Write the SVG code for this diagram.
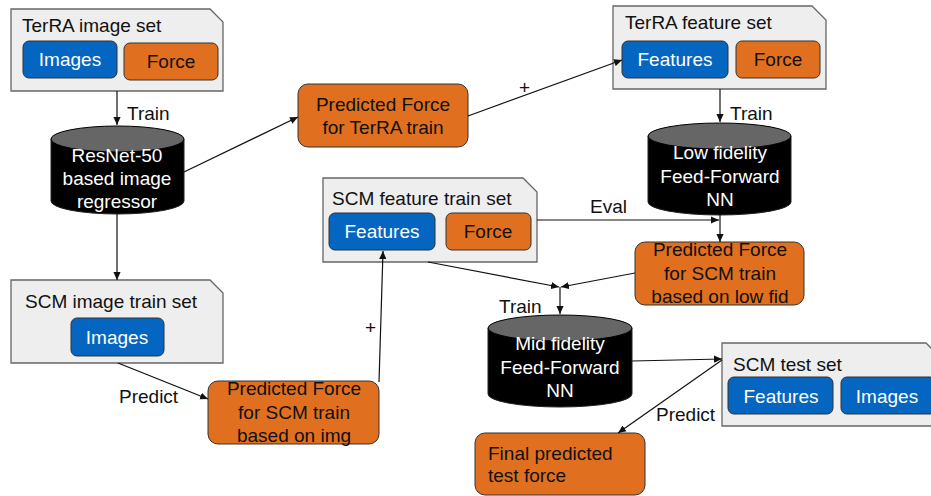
<svg xmlns="http://www.w3.org/2000/svg" width="931" height="496" viewBox="0 0 931 496">
<style>
text{font-family:"Liberation Sans",Arial,sans-serif;font-size:19px;fill:#111}
.set{fill:#eeeeee;stroke:#666;stroke-width:1.3}
.blue{fill:#0466c0;stroke:#333;stroke-width:1}
.org{fill:#e07020;stroke:#333;stroke-width:1}
.wt{fill:#fff}
.c{text-anchor:middle}
.cyl{fill:#000;stroke:#222;stroke-width:1}
.top{fill:#666;stroke:#000;stroke-width:1}
.edge{fill:none;stroke:#111;stroke-width:1.2;marker-end:url(#ah)}
</style>
<defs>
<marker id="ah" viewBox="0 0 10 10" refX="10" refY="5" markerWidth="8" markerHeight="8" markerUnits="userSpaceOnUse" orient="auto">
<path d="M0,0.5 L10,5 L0,9.5 Z" fill="#111"/>
</marker>
</defs>

<g id="terra-image-set">
<path class="set" d="M11,9 H210 L223,22 V91 H11 Z"/>
<text x="22" y="32">TerRA image set</text>
<rect class="blue" x="23" y="41" width="94" height="37" rx="6"/>
<text class="wt c" x="70" y="66">Images</text>
<rect class="org" x="124" y="43" width="94" height="37" rx="6"/>
<text class="c" x="171" y="68">Force</text>
</g>

<g id="resnet">
<path class="cyl" d="M51,139 V201 A66.5,13 0 0 0 184,201 V139 Z"/>
<ellipse class="top" cx="117.5" cy="139" rx="66.5" ry="13"/>
<text class="wt c" x="117" y="162">ResNet-50</text>
<text class="wt c" x="117" y="185">based image</text>
<text class="wt c" x="117" y="208">regressor</text>
</g>

<g id="pred-terra">
<rect class="org" x="298" y="84" width="170" height="63" rx="10"/>
<text class="c" x="383" y="111">Predicted Force</text>
<text class="c" x="383" y="134">for TerRA train</text>
</g>

<g id="terra-feature-set">
<path class="set" d="M613,6 H812 L826,20 V89 H613 Z"/>
<text x="625" y="29">TerRA feature set</text>
<rect class="blue" x="622" y="41" width="106" height="37" rx="6"/>
<text class="wt c" x="675" y="66">Features</text>
<rect class="org" x="736" y="41" width="84" height="37" rx="6"/>
<text class="c" x="778" y="66">Force</text>
</g>

<g id="low-fid">
<path class="cyl" d="M648,136 V202 A71.5,13 0 0 0 791,202 V136 Z"/>
<ellipse class="top" cx="719.5" cy="136" rx="71.5" ry="13"/>
<text class="wt c" x="720" y="159">Low fidelity</text>
<text class="wt c" x="720" y="183">Feed-Forward</text>
<text class="wt c" x="720" y="206">NN</text>
</g>

<g id="scm-feature-set">
<path class="set" d="M323,178 H523 L537,192 V262 H323 Z"/>
<text x="332" y="205">SCM feature train set</text>
<rect class="blue" x="329" y="213" width="106" height="37" rx="6"/>
<text class="wt c" x="382" y="238">Features</text>
<rect class="org" x="446" y="213" width="85" height="37" rx="6"/>
<text class="c" x="488" y="238">Force</text>
</g>

<g id="pred-scm-low">
<rect class="org" x="635" y="242" width="169" height="63" rx="10"/>
<text class="c" x="720" y="256">Predicted Force</text>
<text class="c" x="720" y="280">for SCM train</text>
<text class="c" x="720" y="303">based on low fid</text>
</g>

<g id="scm-image-set">
<path class="set" d="M11,280 H210 L223,293 V363 H11 Z"/>
<text x="25" y="308">SCM image train set</text>
<rect class="blue" x="71" y="318" width="93" height="38" rx="6"/>
<text class="wt c" x="117" y="344">Images</text>
</g>

<g id="pred-scm-img">
<rect class="org" x="208" y="381" width="171" height="63" rx="10"/>
<text class="c" x="294" y="395">Predicted Force</text>
<text class="c" x="294" y="419">for SCM train</text>
<text class="c" x="294" y="442">based on img</text>
</g>

<g id="mid-fid">
<path class="cyl" d="M488,328 V394 A72,13 0 0 0 632,394 V328 Z"/>
<ellipse class="top" cx="560" cy="328" rx="72" ry="13"/>
<text class="wt c" x="560" y="350">Mid fidelity</text>
<text class="wt c" x="560" y="374">Feed-Forward</text>
<text class="wt c" x="560" y="397">NN</text>
</g>

<g id="scm-test-set">
<path class="set" d="M722,343 H926 L940,357 V426 H722 Z"/>
<text x="733" y="371">SCM test set</text>
<rect class="blue" x="728" y="377" width="105" height="37" rx="6"/>
<text class="wt c" x="781" y="403">Features</text>
<rect class="blue" x="841" y="377" width="95" height="37" rx="6"/>
<text class="wt c" x="887" y="403">Images</text>
</g>

<g id="final">
<rect class="org" x="475" y="433" width="170" height="62" rx="10"/>
<text x="488" y="460">Final predicted</text>
<text x="488" y="482">test force</text>
</g>

<g id="connectors">
<path class="edge" d="M117,91 V125"/>
<text x="127" y="120">Train</text>
<path class="edge" d="M184,172 L298,117"/>
<path class="edge" d="M468,116 L622,60"/>
<text x="519" y="94">+</text>
<path class="edge" d="M720,89 V122"/>
<text x="730" y="120">Train</text>
<path class="edge" d="M537,220 H719"/>
<text x="590" y="213">Eval</text>
<path class="edge" d="M720,215 V242"/>
<path class="edge" d="M428,262 L559,287"/>
<path class="edge" d="M635,273 L561,287"/>
<path class="edge" d="M560,287 V314"/>
<text x="499" y="313">Train</text>
<path class="edge" d="M117,214 V280"/>
<path class="edge" d="M118,363 L208,399"/>
<text x="119" y="403">Predict</text>
<path class="edge" d="M379,382 L383,251"/>
<text x="365" y="334">+</text>
<path class="edge" d="M632,361 L722,359"/>
<path class="edge" d="M722,360 L618,433"/>
<text x="656" y="421">Predict</text>
</g>
</svg>
